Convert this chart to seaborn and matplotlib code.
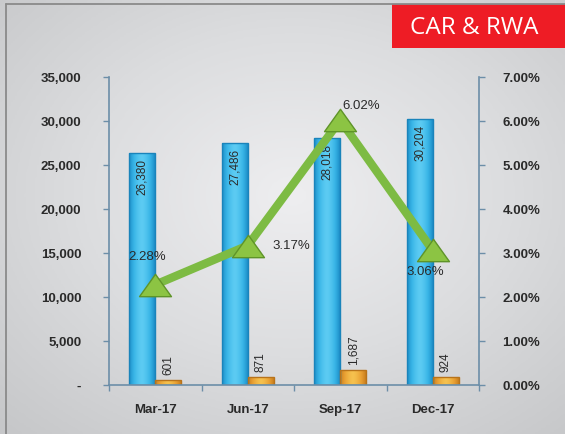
import numpy as np
import pandas as pd
import matplotlib
matplotlib.use("Agg")
import matplotlib.pyplot as plt
import seaborn as sns
from matplotlib.path import Path
from matplotlib.lines import Line2D
from matplotlib.patches import Rectangle
from matplotlib.ticker import FuncFormatter, FixedLocator
from matplotlib.colors import LinearSegmentedColormap

# ---- data ----
periods = ["Mar-17", "Jun-17", "Sep-17", "Dec-17"]
rwa = [26380, 27486, 28018, 30204]
capital = [601, 871, 1687, 924]
car = [2.28, 3.17, 6.02, 3.06]
rwa_labels = ["26,380", "27,486", "28,018", "30,204"]
capital_labels = ["601", "871", "1,687", "924"]
car_labels = ["2.28%", "3.17%", "6.02%", "3.06%"]
left_ticks = [0, 5000, 10000, 15000, 20000, 25000, 30000, 35000]
right_ticks = [0, 1, 2, 3, 4, 5, 6, 7]
title_text = "CAR & RWA"

df = pd.DataFrame({
    "period": periods * 2,
    "series": ["RWA"] * 4 + ["Capital"] * 4,
    "value": rwa + capital,
})

W, H = 565, 434
sns.set_theme(style="white")
plt.rcParams["font.family"] = ["Liberation Sans", "DejaVu Sans"]

fig = plt.figure(figsize=(W / 100, H / 100), dpi=100)

# background radial gradient
bg = fig.add_axes([0, 0, 1, 1], zorder=-10)
yy, xx = np.mgrid[0:1:200j, 0:1:260j]
r = np.sqrt(((xx - 0.52) / 0.75) ** 2 + ((yy - 0.55) / 0.75) ** 2)
cmap = LinearSegmentedColormap.from_list("bgc", ["#eeeef0", "#dcdddf", "#c6c7c9"])
bg.imshow(np.clip(r, 0, 1), extent=[0, 1, 0, 1], aspect="auto", cmap=cmap,
          vmin=0, vmax=1, origin="lower")
bg.axis("off")

# frame lines (left and top)
fig.add_artist(Line2D([5.5 / W, 5.5 / W], [0, 1 - 3.5 / H], color="#8a8a8a", lw=1.3))
fig.add_artist(Line2D([5.5 / W, 1], [1 - 3.5 / H, 1 - 3.5 / H], color="#8a8a8a", lw=1.3))

# red title box
fig.add_artist(Rectangle((392 / W, 1 - 48 / H), 1 - 392 / W, 44 / H,
                         transform=fig.transFigure, facecolor="#ee1c25",
                         edgecolor="none"))
fig.text(474 / W, 1 - 27.5 / H, title_text, color="white", fontsize=17.5,
         family=["Open Sans", "DejaVu Sans"], ha="center", va="center")

ax = fig.add_axes([109 / W, 49 / H, 370 / W, 308 / H])
ax.set_facecolor("none")

blue = "#38b4e6"
orange = "#e9a033"
sns.barplot(data=df, x="period", y="value", hue="series",
            palette=[blue, orange], width=0.56, saturation=1,
            ax=ax, legend=False)

ax.set_xlim(-0.5, 3.5)
ax.set_ylim(0, 35000)

# cylinder-like shading clipped to each bar
grad = np.abs(np.linspace(-1, 1, 64))[None, :] ** 1.5
grad_maps = [
    LinearSegmentedColormap.from_list("bb", ["#5ccbf3", "#38b4e6", "#1d8ec8"]),
    LinearSegmentedColormap.from_list("oo", ["#f6c14e", "#e9a033", "#c97f1e"]),
]
edge_cols = ["#1a84bb", "#b8731a"]
for cont, ec, cm in zip(ax.containers, edge_cols, grad_maps):
    for b in cont:
        x0, w, h = b.get_x(), b.get_width(), b.get_height()
        im = ax.imshow(grad, extent=[x0, x0 + w, 0, h], aspect="auto",
                       cmap=cm, vmin=0, vmax=1, zorder=b.get_zorder() + 0.1,
                       interpolation="bilinear")
        im.set_clip_path(b)
        b.set_edgecolor(ec)
        b.set_linewidth(1.0)
        b.set_zorder(b.get_zorder() + 0.2)
        b.set_facecolor("none")

ax.set_xlim(-0.5, 3.5)
ax.set_ylim(0, 35000)
ax.set_aspect("auto")

spine_col = "#6c8ea8"
txt_col = "#2a2a2a"

for b, lab in zip(ax.containers[0], rwa_labels):
    ax.annotate(lab, (b.get_x() + b.get_width() / 2, b.get_height()),
                xytext=(0, -6), textcoords="offset pixels", rotation=90,
                ha="center", va="top", fontsize=8.5, color=txt_col, zorder=5)
for b, lab in zip(ax.containers[1], capital_labels):
    ax.annotate(lab, (b.get_x() + b.get_width() / 2, b.get_height()),
                xytext=(0, 5), textcoords="offset pixels", rotation=90,
                ha="center", va="bottom", fontsize=8.5, color=txt_col, zorder=5)

ax.set_yticks(left_ticks)
ax.yaxis.set_major_formatter(FuncFormatter(lambda v, p: "-" if v == 0 else f"{int(v):,}"))
ax.set_xlabel("")
ax.set_ylabel("")
ax.xaxis.set_minor_locator(FixedLocator([-0.5, 0.5, 1.5, 2.5, 3.5]))
ax.tick_params(axis="x", which="major", length=0, pad=14, labelsize=9.5,
               labelcolor=txt_col)
ax.tick_params(axis="x", which="minor", length=4, width=1, color=spine_col,
               direction="out", bottom=True)
ax.tick_params(axis="y", length=4, width=1, color=spine_col, direction="out",
               left=True, pad=16, labelsize=9.5, labelcolor=txt_col)
for lab in ax.get_xticklabels():
    lab.set_fontweight("bold")
for lab in ax.get_yticklabels():
    lab.set_fontweight("bold")
for s in ["left", "bottom"]:
    ax.spines[s].set_visible(True)
    ax.spines[s].set_color(spine_col)
    ax.spines[s].set_linewidth(1.2)
ax.spines["top"].set_visible(False)
ax.spines["right"].set_visible(False)

ax2 = ax.twinx()
ax2.set_facecolor("none")
tri = Path([(-1, -0.7), (1, -0.7), (0, 0.7), (-1, -0.7)],
           [Path.MOVETO, Path.LINETO, Path.LINETO, Path.CLOSEPOLY])
sns.lineplot(x=np.arange(len(car)), y=car, ax=ax2, color="#7dbb43",
             linewidth=6, marker=tri, markersize=23, markerfacecolor="#8cc443",
             markeredgecolor="#5f9428", markeredgewidth=1)
ax2.set_xlim(-0.5, 3.5)
ax2.set_ylim(0, 7)
ax2.set_yticks(right_ticks)
ax2.yaxis.set_major_formatter(FuncFormatter(lambda v, p: f"{v:.2f}%"))
ax2.tick_params(axis="y", length=4, width=1, color=spine_col, direction="out",
                right=True, pad=13, labelsize=9.5, labelcolor=txt_col)
for lab in ax2.get_yticklabels():
    lab.set_fontweight("bold")
for s in ["left", "top", "bottom"]:
    ax2.spines[s].set_visible(False)
ax2.spines["right"].set_visible(True)
ax2.spines["right"].set_color(spine_col)
ax2.spines["right"].set_linewidth(1.2)

offsets = [(-8, 28), (44, 0), (21, 14), (-7, -22)]
for i, (v, lab) in enumerate(zip(car, car_labels)):
    ax2.annotate(lab, (i, v), xytext=offsets[i], textcoords="offset pixels",
                 ha="center", va="center", fontsize=9.5, color=txt_col)

fig.savefig("out.png", dpi=100)
